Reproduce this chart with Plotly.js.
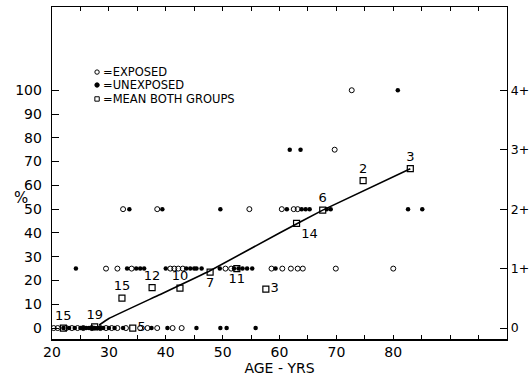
<!DOCTYPE html>
<html>
<head>
<meta charset="utf-8">
<script src="https://cdn.plot.ly/plotly-3.0.1.min.js"></script>
<style>
  html, body { margin: 0; padding: 0; background: #fff; }
  #chart { width: 529px; height: 381px; }
</style>
</head>
<body>
<div id="chart"></div>
<script>
// Exposed subjects (open circles): age in years, percent affected
const exposedAge = [20.3, 21, 22.5, 23.5, 24.5, 25.5, 27, 28.5, 29.5, 30.5, 31.5, 33, 35.5, 36.8, 38.5, 41.2, 42.8,
                    29.5, 31.5, 34, 40.8, 41.5, 42.2, 43, 50.5, 51.5, 58.6, 60.5, 62, 63.2, 64.1, 69.9, 80,
                    32.5, 38.5, 54.7, 60.4, 62.5, 63.2,
                    69.7,
                    72.7];
const exposedPct = [0, 0, 0, 0, 0, 0, 0, 0, 0, 0, 0, 0, 0, 0, 0, 0, 0,
                    25, 25, 25, 25, 25, 25, 25, 25, 25, 25, 25, 25, 25, 25, 25, 25,
                    50, 50, 50, 50, 50, 50,
                    75,
                    100];

// Unexposed subjects (filled dots)
const unexposedAge = [22, 23, 24, 25, 25.5, 26, 26.5, 27, 27.5, 28, 28.5, 29, 30, 31, 32.5, 37.5, 40.3, 45.4, 49.6, 50.7, 55.8,
                      24.2, 33.2, 34.8, 35.5, 36.2, 40, 43.6, 44.3, 45, 45.4, 46.3, 49.5, 52, 52.8, 53.5, 54.3, 55.2, 59.3,
                      33.6, 39.4, 49.6, 61.3, 63.9, 64.6, 65.3, 68.3, 69, 82.6, 85.1,
                      61.8, 63.7,
                      80.8];
const unexposedPct = [0, 0, 0, 0, 0, 0, 0, 0, 0, 0, 0, 0, 0, 0, 0, 0, 0, 0, 0, 0, 0,
                      25, 25, 25, 25, 25, 25, 25, 25, 25, 25, 25, 25, 25, 25, 25, 25, 25, 25,
                      50, 50, 50, 50, 50, 50, 50, 50, 50, 50, 50,
                      75, 75,
                      100];

// Mean of both groups per age class, with the number of subjects in the class
const meanAge = [22, 27.5, 34.2, 32.3, 37.6, 42.5, 47.8, 52.5, 57.6, 63, 67.6, 74.7, 83];
const meanPct = [0, 0.5, 0, 12.6, 17, 16.8, 23.5, 25, 16.4, 44, 49.6, 62, 67];
const meanN   = ['15', '19', '5', '15', '12', '10', '7', '11', '3', '14', '6', '2', '3'];

// Fitted trend through the class means
const fitAge = [28.3, 30, 38.9, 47.7, 60, 67.6, 83];
const fitPct = [1.3, 4, 14, 24, 40, 49.6, 67];

// Axis ticks
const xTicks = [20, 25, 30, 35, 40, 45, 50, 55, 60, 65, 70, 75, 80, 85, 90, 95];
const xTickText = ['20', '', '30', '', '40', '', '50', '', '60', '', '70', '', '80', '', '', ''];
const yTicks = [0, 10, 20, 30, 40, 50, 60, 70, 80, 90, 100];
const gradeTicks = [0, 25, 50, 75, 100];
const gradeText = ['0', '1+', '2+', '3+', '4+'];

const FONT = 'DejaVu Sans, Liberation Sans, sans-serif';
const meanTextPos = ['top center', 'top center', 'middle right', 'top center', 'top center', 'top center',
                     'bottom center', 'bottom center', 'middle right', 'bottom right', 'top center',
                     'top center', 'top center'];

const traces = [
  {
    x: fitAge, y: fitPct, type: 'scatter', mode: 'lines',
    line: { color: '#000', width: 1.6, shape: 'spline', smoothing: 0.3 },
    hoverinfo: 'skip', showlegend: false
  },
  {
    x: exposedAge, y: exposedPct, type: 'scatter', mode: 'markers',
    marker: { symbol: 'circle-open', size: 5, color: '#000', line: { width: 1, color: '#000' } },
    showlegend: false
  },
  {
    x: unexposedAge, y: unexposedPct, type: 'scatter', mode: 'markers',
    marker: { symbol: 'circle', size: 4.5, color: '#000' },
    showlegend: false
  },
  {
    x: meanAge, y: meanPct, type: 'scatter', mode: 'markers+text',
    text: meanN, textposition: meanTextPos,
    textfont: { family: FONT, size: 13, color: '#000' },
    marker: { symbol: 'square-open', size: 6, color: '#000', line: { width: 1.2, color: '#000' } },
    showlegend: false
  },
  {
    // invisible trace that carries the right-hand grade axis
    x: [20], y: [0], yaxis: 'y2', type: 'scatter', mode: 'markers',
    marker: { opacity: 0 }, hoverinfo: 'skip', showlegend: false
  }
];

const yRange = [-4.6, 135];

// small key symbols drawn in pixel size next to the key text
function keyMark(type, yPaper, filled) {
  return {
    type: type, xref: 'paper', yref: 'paper', xsizemode: 'pixel', ysizemode: 'pixel',
    xanchor: 0.099, yanchor: yPaper, x0: -2.2, x1: 2.2, y0: -2.2, y1: 2.2,
    line: { color: '#000', width: 1 }, fillcolor: filled ? '#000' : 'rgba(0,0,0,0)'
  };
}

const keyFont = { family: FONT, size: 11.5, color: '#000' };

const layout = {
  width: 529, height: 381,
  margin: { l: 52, r: 22, t: 7, b: 42 },
  paper_bgcolor: '#fff', plot_bgcolor: '#fff',
  font: { family: FONT, color: '#000', size: 14 },
  showlegend: false,
  xaxis: {
    range: [20, 100], showgrid: false, zeroline: false,
    showline: true, linecolor: '#000', linewidth: 1.5, mirror: 'ticks',
    tickmode: 'array', tickvals: xTicks, ticktext: xTickText,
    ticks: 'inside', ticklen: 4, tickcolor: '#000', tickwidth: 1,
    tickfont: { family: FONT, size: 14, color: '#000' },
    title: { text: 'AGE - YRS', font: { family: FONT, size: 14, color: '#000' }, standoff: 2 }
  },
  yaxis: {
    range: yRange, showgrid: false, zeroline: false,
    showline: true, linecolor: '#000', linewidth: 1.3,
    tickmode: 'array', tickvals: yTicks,
    ticks: 'inside', ticklen: 7, tickcolor: '#000', tickwidth: 1,
    ticklabelstandoff: 6,
    tickfont: { family: FONT, size: 14, color: '#000' }
  },
  yaxis2: {
    overlaying: 'y', side: 'right', range: yRange,
    showgrid: false, zeroline: false,
    showline: true, linecolor: '#000', linewidth: 1.3,
    tickmode: 'array', tickvals: gradeTicks, ticktext: gradeText,
    ticks: 'inside', ticklen: 7, tickcolor: '#000', tickwidth: 1,
    ticklabelstandoff: 0,
    tickfont: { family: FONT, size: 12.5, color: '#000' }
  },
  shapes: [
    keyMark('circle', 0.804, false),
    keyMark('circle', 0.765, true),
    keyMark('rect', 0.723, false)
  ],
  annotations: [
    { xref: 'paper', yref: 'paper', x: -0.088, y: 0.425, text: '%', showarrow: false,
      font: { family: FONT, size: 15, color: '#000' } },
    { xref: 'paper', yref: 'paper', x: 0.108, y: 0.804, xanchor: 'left', yanchor: 'middle',
      text: '=EXPOSED', showarrow: false, font: keyFont },
    { xref: 'paper', yref: 'paper', x: 0.108, y: 0.765, xanchor: 'left', yanchor: 'middle',
      text: '=UNEXPOSED', showarrow: false, font: keyFont },
    { xref: 'paper', yref: 'paper', x: 0.108, y: 0.723, xanchor: 'left', yanchor: 'middle',
      text: '=MEAN BOTH GROUPS', showarrow: false, font: keyFont }
  ]
};

Plotly.newPlot('chart', traces, layout, { displayModeBar: false, staticPlot: true });
</script>
</body>
</html>
